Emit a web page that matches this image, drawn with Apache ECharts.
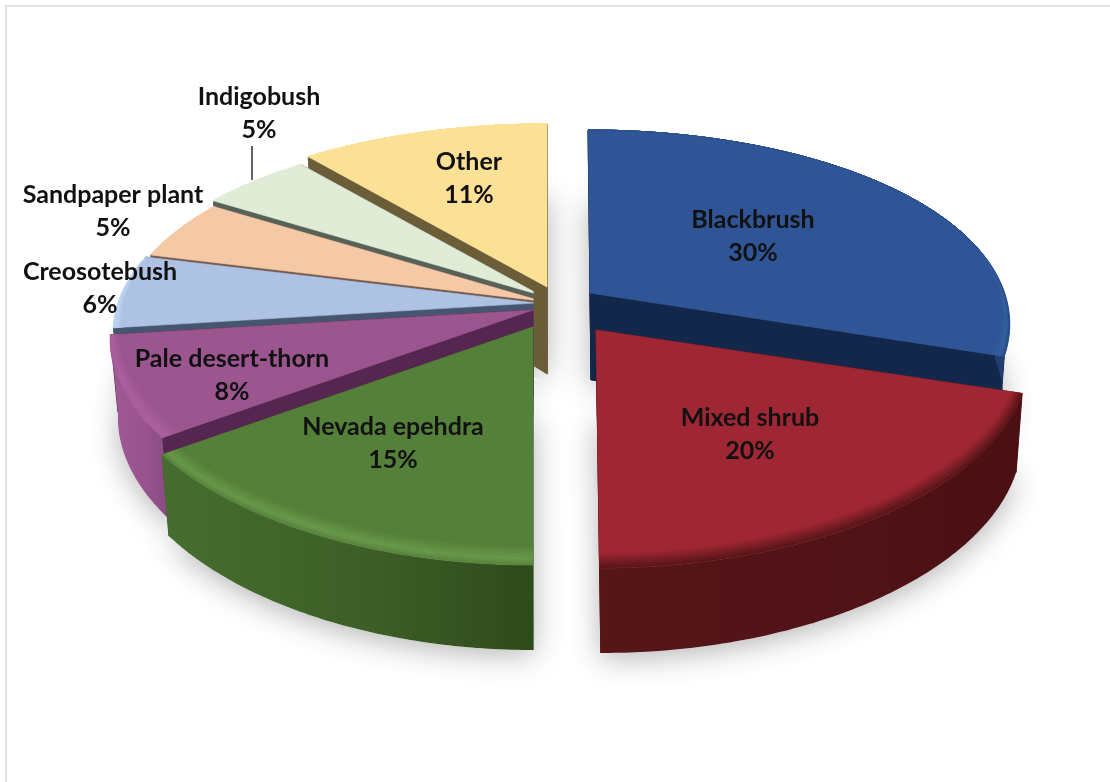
<!DOCTYPE html>
<html><head><meta charset="utf-8">
<style>html,body{margin:0;padding:0;background:#fff}#c{width:1110px;height:782px}</style>
<script src="https://cdn.jsdelivr.net/npm/echarts@6/dist/echarts.min.js"></script>
</head><body><div id="c"></div>
<script>
// ---- data, clockwise from 12 o'clock ----
const categories = ['Blackbrush','Mixed shrub','Nevada epehdra','Pale desert-thorn','Creosotebush','Sandpaper plant','Indigobush','Other'];
const shares = [30,20,15,8,6,5,5,11];

// ---- styling ----
const topColors  = ['#2f5597','#9f2733','#55803a','#9b558f','#aec2e3','#f5c9a6','#e0ecd6','#fbe196'];
const glowColors = ['#35609f','#9f2733','#6a9a4c','#ab60a0','#bcd5f6','#f5c9a6','#e0ecd6','#fbe196'];
const wallLeft   = ['#1f3c6e','#551519','#466d2f','#a05a96','#46566e','#d8ae8c','#c2d0b8','#d8c27e'];
const wallRight  = ['#254880','#4a1014','#2f4a1b','#8b4a83','#46566e','#d8ae8c','#c2d0b8','#d8c27e'];
const faceColors = ['#12274a','#5a1518','#3f6428','#55264f','#46566e','#7a5a48','#566258','#6b5d38'];
const bevelDark  = [0.6,1,0.5,0.3,0,0,0,0];
const bevelTurn  = [0.7,0.25,0.7,0.7,0.7,0.7,0.7,0.7];

// ---- layout ----
const apex = [[590,293],[596,330],[533,327],[533,310],[536,303],[541,301],[540,295],[547,287]];
const radiusScale = [0.992,1.02,1,1,1,1,1,1];
const shear = [0.012,0.015,0,0,0,0,0,0];
const clipLeft = [false,false,true,true,true,true,true,false];
const labelAt = [[753,236],[750,434],[393,443],[232,375],[100,288],[113,211],[259,113],[469,178]];
const drawOrder = [0,1,7,6,5,4,3,2];
const RX=418, RY=193.5, K=0.187, KX=0.15, H=76.5, APEX_DEPTH=87, MID_X=560, BOTTOM_SQUEEZE=0.983, CLIP_X=533.5;

const total = shares.reduce((a,b)=>a+b,0);
const startAngle = []; let acc=0;
shares.forEach(v=>{startAngle.push(acc/total*Math.PI*2); acc+=v;});

function project(i,th,r,drop){
  const c=Math.sin(th), s=-Math.cos(th);
  let x=apex[i][0]+RX*r*radiusScale[i]*c/(1-KX*r*s);
  let y=apex[i][1]+RY*r*s/(1-K*r*s);
  if(drop){
    y+=H/(1-0.1*r*s);
    if(!shear[i]) x=MID_X+(x-MID_X)*BOTTOM_SQUEEZE;
    else x=x-(x-apex[i][0])*(1-BOTTOM_SQUEEZE);
  }
  x+=shear[i]*(y-apex[i][1]);
  return [x,y];
}
function apexDown(i){
  const x=shear[i]?apex[i][0]+shear[i]*APEX_DEPTH:MID_X+(apex[i][0]-MID_X)*BOTTOM_SQUEEZE;
  return [x, apex[i][1]+APEX_DEPTH];
}
function arc(i,t0,t1,rf,drop,n){
  const out=[];
  for(let j=0;j<=n;j++){
    const th=t0+(t1-t0)*j/n;
    out.push(project(i,th,rf(th),drop));
  }
  return out;
}
function mix(a,b,t){
  const p=h=>[1,3,5].map(k=>parseInt(h.substr(k,2),16));
  const A=p(a),B=p(b);
  return 'rgb('+A.map((v,k)=>Math.round(v+(B[k]-v)*t)).join(',')+')';
}
function range(i){ return [startAngle[i], startAngle[i]+shares[i]/total*Math.PI*2]; }
const one=()=>1;

function renderShadow(params,api){
  const i=api.value(0), [a,b]=range(i);
  const pts=[apexDown(i)].concat(arc(i,a,b,one,true,60));
  return {type:'polygon',shape:{points:pts},style:{fill:'#fff',shadowBlur:30,shadowColor:'rgba(0,0,0,0.3)',shadowOffsetY:5}};
}
function renderSlice(params,api){
  const i=api.value(0), [a,b]=range(i), kids=[];
  const N=80;
  const face=(th)=>{
    const pts=[[apex[i][0],apex[i][1]],project(i,th,1,false),project(i,th,1,true),apexDown(i)];
    kids.push({type:'polygon',shape:{points:pts},style:{fill:faceColors[i],stroke:faceColors[i],lineWidth:1}});
  };
  face(a); face(b);
  // outer wall: only the part of the rim that faces the viewer
  const frontLo=Math.PI/2-0.05, frontHi=Math.PI*1.5-0.1;
  const wa=Math.max(a,frontLo), wb=Math.min(b,frontHi);
  if(wb-wa>0.05){
    const upW=arc(i,wa,wb,one,false,N), loW=arc(i,wa,wb,one,true,N).reverse();
    kids.push({type:'polygon',shape:{points:upW.concat(loW)},style:{
      fill:{type:'linear',x:0,y:0,x2:1,y2:0,colorStops:[{offset:0,color:wallLeft[i]},{offset:0.55,color:mix(wallLeft[i],wallRight[i],0.4)},{offset:1,color:wallRight[i]}]}
    }});
  }
  const top=[[apex[i][0],apex[i][1]]].concat(arc(i,a,b,one,false,N));
  kids.push({type:'polygon',shape:{points:top},style:{fill:topColors[i],stroke:topColors[i],lineWidth:0.6}});
  // soft bevel along the viewer-facing rim
  const bevel=(th)=>0.07*Math.max(0,(-Math.cos(th)+0.25)/1.25);
  const steps=12, turn=bevelTurn[i];
  for(let q=0;q<steps;q++){
    const t0=q/steps,t1=(q+1)/steps,tm=(t0+t1)/2;
    const col= tm<turn ? mix(topColors[i],glowColors[i],tm/turn) : mix(glowColors[i],wallLeft[i],(tm-turn)/(1-turn)*bevelDark[i]);
    const inner=arc(i,a,b,th=>1-bevel(th)*(1-t0),false,N);
    const outer=arc(i,a,b,th=>1-bevel(th)*(1-t1),false,N).reverse();
    kids.push({type:'polygon',shape:{points:inner.concat(outer)},style:{fill:col,stroke:col,lineWidth:0.4}});
  }
  const g={type:'group',children:kids};
  if(clipLeft[i]) g.clipPath={type:'rect',shape:{x:0,y:0,width:CLIP_X,height:782}};
  return g;
}
function renderLabel(params,api){
  const i=api.value(0);
  return {type:'text',x:labelAt[i][0],y:labelAt[i][1],style:{
    text:categories[i]+'\n'+shares[i]+'%',fill:'#111',font:'bold 25px Lato, "Open Sans", sans-serif',
    align:'center',verticalAlign:'middle',lineHeight:33}};
}
const seriesData=drawOrder.map(i=>[i,shares[i]]);
const chart=echarts.init(document.getElementById('c'),null,{renderer:'canvas'});
chart.setOption({
  animation:false,backgroundColor:'#fff',
  graphic:[
    {type:'polyline',z:0,shape:{points:[[6,790],[6,6],[1120,6]]},style:{stroke:'#e3e3e3',lineWidth:2,fill:null}},
    {type:'line',z:50,shape:{x1:252,y1:146,x2:252,y2:180},style:{stroke:'#222',lineWidth:1.4}}
  ],
  series:[
    {type:'custom',coordinateSystem:'none',z:1,silent:true,data:seriesData,renderItem:renderShadow},
    {type:'custom',coordinateSystem:'none',z:2,silent:true,data:seriesData,renderItem:renderSlice},
    {type:'custom',coordinateSystem:'none',z:3,silent:true,data:seriesData,renderItem:renderLabel}
  ]
});
</script></body></html>
